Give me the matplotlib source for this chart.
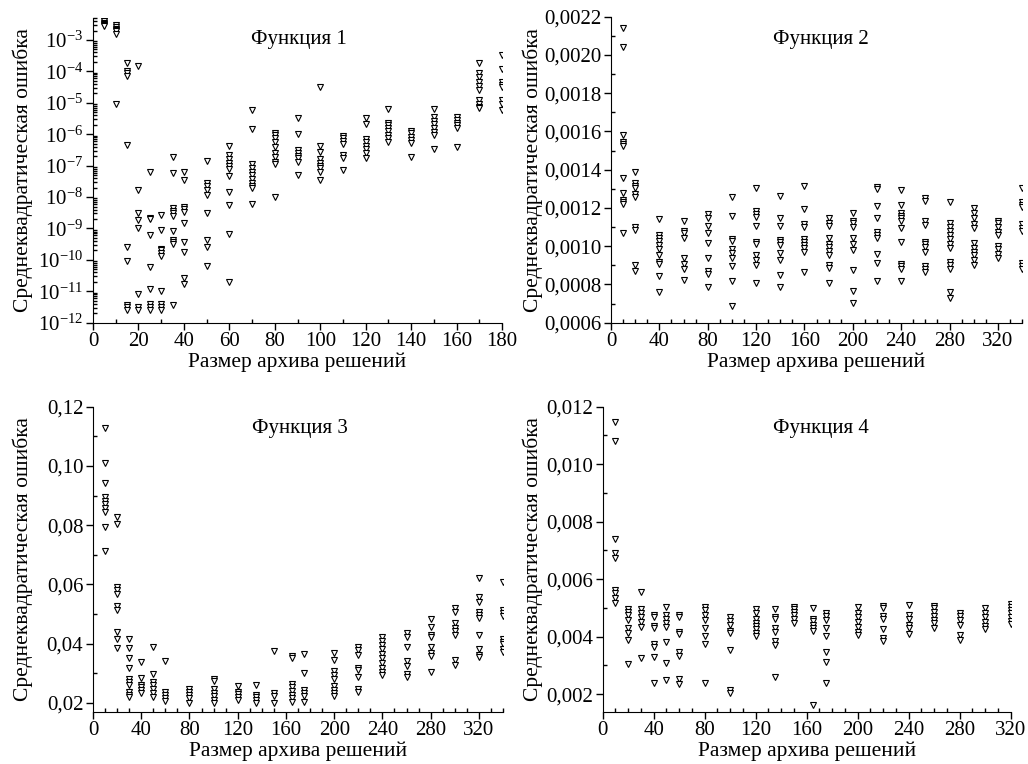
import matplotlib
matplotlib.use('Agg')
import matplotlib.pyplot as plt
from matplotlib.ticker import MultipleLocator, FuncFormatter, LogLocator

plt.rcParams['font.family'] = ['Liberation Serif', 'DejaVu Serif']
plt.rcParams['mathtext.fontset'] = 'custom'
plt.rcParams['mathtext.rm'] = 'Liberation Serif'

# ---- data ----
f1_sizes = [5, 10, 15, 20, 25, 30, 35, 40, 50, 60, 70, 80, 90, 100, 110, 120,
            130, 140, 150, 160, 170, 180]
f1_errors = [
    [4.3e-3, 4.0e-3, 3.6e-3, 3.3e-3, 3.0e-3, 2.8e-3],
    [3.0e-3, 2.6e-3, 2.3e-3, 2.1e-3, 1.9e-3, 1.6e-3, 9.5e-6],
    [1.9e-4, 1.0e-4, 8.7e-5, 7.0e-5, 4.6e-7, 2.6e-10, 9.1e-11, 3.6e-12, 3.1e-12, 2.6e-12],
    [1.5e-4, 1.7e-8, 3.0e-9, 1.9e-9, 1.0e-9, 8.1e-12, 3.1e-12, 2.6e-12],
    [6.5e-8, 2.2e-9, 2.0e-9, 6.0e-10, 6.0e-11, 1.2e-11, 3.9e-12, 3.2e-12, 2.6e-12],
    [2.6e-9, 8.9e-10, 2.3e-10, 2.0e-10, 1.6e-10, 1.3e-10, 1.0e-11, 3.9e-12, 3.2e-12, 2.6e-12],
    [1.9e-7, 5.9e-8, 4.4e-9, 3.7e-9, 3.0e-9, 2.5e-9, 8.5e-10, 4.3e-10, 3.6e-10, 3.1e-10, 3.8e-12],
    [6.5e-8, 3.5e-8, 4.9e-9, 4.1e-9, 3.4e-9, 1.5e-9, 3.7e-10, 1.8e-10, 2.7e-11, 1.7e-11],
    [1.4e-7, 2.9e-8, 2.3e-8, 1.7e-8, 1.2e-8, 3.0e-9, 4.3e-10, 2.6e-10, 6.3e-11],
    [4.3e-7, 2.2e-7, 1.6e-7, 1.2e-7, 9.5e-8, 7.7e-8, 4.8e-8, 1.4e-8, 5.6e-9, 6.9e-10, 2.0e-11],
    [5.9e-6, 1.5e-6, 1.1e-7, 8.2e-8, 6.5e-8, 5.0e-8, 3.8e-8, 2.9e-8, 2.3e-8, 1.9e-8, 6.0e-9],
    [1.1e-6, 9.5e-7, 7.4e-7, 5.8e-7, 4.0e-7, 2.5e-7, 1.9e-7, 1.3e-7, 1.1e-7, 1.0e-8],
    [3.2e-6, 1.0e-6, 3.2e-7, 2.6e-7, 2.1e-7, 1.7e-7, 1.3e-7, 5.2e-8],
    [3.3e-5, 4.3e-7, 2.8e-7, 1.6e-7, 1.2e-7, 1.0e-7, 8.2e-8, 6.5e-8, 3.5e-8],
    [8.7e-7, 7.4e-7, 6.0e-7, 4.8e-7, 2.2e-7, 1.7e-7, 7.3e-8],
    [3.2e-6, 2.1e-6, 6.9e-7, 5.8e-7, 4.3e-7, 3.3e-7, 2.5e-7, 1.7e-7],
    [6.2e-6, 2.3e-6, 2.0e-6, 1.6e-6, 1.3e-6, 9.5e-7, 7.4e-7, 5.8e-7],
    [1.3e-6, 1.1e-6, 8.4e-7, 6.6e-7, 5.1e-7, 1.9e-7],
    [6.2e-6, 3.6e-6, 2.7e-6, 2.1e-6, 1.6e-6, 1.2e-6, 9.5e-7, 3.3e-7],
    [3.5e-6, 2.8e-6, 2.3e-6, 2.0e-6, 1.6e-6, 4.0e-7],
    [1.8e-4, 8.7e-5, 6.8e-5, 4.7e-5, 3.4e-5, 2.6e-5, 1.2e-5, 9.5e-6, 7.5e-6, 6.6e-6],
    [3.3e-4, 1.2e-4, 4.7e-5, 3.7e-5, 3.1e-5, 1.2e-5, 9.5e-6, 5.9e-6],
]

f2_sizes = [10, 20, 40, 60, 80, 100, 120, 140, 160, 180, 200, 220, 240, 260,
            280, 300, 320, 340]
f2_errors = [
    [0.00214, 0.00204, 0.001582, 0.001547, 0.001535, 0.001526, 0.001355, 0.00128,
     0.001242, 0.00123, 0.00122, 0.001068],
    [0.00139, 0.00133, 0.001315, 0.001303, 0.001273, 0.001259, 0.001099, 0.001085,
     0.0009, 0.00087],
    [0.001142, 0.001058, 0.001045, 0.001028, 0.001005, 0.000983, 0.000953, 0.000918,
     0.000906, 0.000843, 0.000763],
    [0.001133, 0.00108, 0.00107, 0.001045, 0.000936, 0.000909, 0.000881, 0.000824],
    [0.001167, 0.00115, 0.001105, 0.00107, 0.001017, 0.00094, 0.00087, 0.000857, 0.000785],
    [0.001259, 0.001159, 0.00104, 0.001028, 0.000988, 0.000962, 0.00094, 0.000897,
     0.000817, 0.000687],
    [0.001306, 0.001186, 0.00117, 0.001155, 0.001105, 0.001023, 0.00101, 0.000953,
     0.000927, 0.0009, 0.000806],
    [0.00126, 0.001146, 0.001108, 0.001033, 0.00102, 0.001007, 0.000967, 0.000928,
     0.00085, 0.000789],
    [0.001315, 0.001193, 0.001116, 0.001102, 0.001037, 0.001023, 0.001007, 0.00099,
     0.000972, 0.000867],
    [0.00115, 0.001123, 0.001105, 0.001045, 0.001014, 0.000997, 0.000976, 0.000953,
     0.0009, 0.000888, 0.000808],
    [0.001172, 0.001133, 0.00112, 0.001102, 0.001045, 0.001014, 0.00098, 0.000876,
     0.000768, 0.000702],
    [0.001311, 0.001299, 0.00121, 0.00115, 0.001076, 0.001058, 0.001045, 0.000958,
     0.000911, 0.00082],
    [0.001294, 0.001216, 0.001176, 0.00116, 0.001146, 0.001134, 0.001094, 0.001021,
     0.000908, 0.000895, 0.000881, 0.00082],
    [0.001251, 0.001238, 0.001134, 0.001111, 0.001024, 0.00101, 0.000997, 0.000972,
     0.000895, 0.000881, 0.000867],
    [0.001233, 0.001123, 0.001102, 0.00108, 0.001058, 0.001037, 0.001014, 0.000993,
     0.000918, 0.0009, 0.000883, 0.000763, 0.000731],
    [0.0012, 0.001172, 0.001146, 0.001116, 0.001094, 0.001019, 0.00099, 0.000972,
     0.000954, 0.000928, 0.0009],
    [0.001134, 0.00112, 0.0011, 0.001076, 0.001058, 0.001, 0.000983, 0.000958, 0.000936],
    [0.001303, 0.001233, 0.001216, 0.001204, 0.001116, 0.001094, 0.00108, 0.000911,
     0.000897, 0.000883],
]

f3_sizes = [10, 20, 30, 40, 50, 60, 80, 100, 120, 135, 150, 165, 175, 200, 220,
            240, 260, 280, 300, 320, 340]
f3_errors = [
    [0.1127, 0.1009, 0.0941, 0.0894, 0.0882, 0.0871, 0.0857, 0.0845, 0.0795, 0.0714],
    [0.0826, 0.0804, 0.059, 0.0581, 0.0569, 0.0527, 0.0513, 0.0438, 0.0417, 0.0384],
    [0.0417, 0.0386, 0.035, 0.0316, 0.028, 0.0271, 0.026, 0.0237, 0.0226, 0.0218],
    [0.0339, 0.0284, 0.026, 0.0252, 0.0243, 0.0232],
    [0.0389, 0.0297, 0.0271, 0.026, 0.0245, 0.0232, 0.022],
    [0.0342, 0.0237, 0.0226, 0.0215, 0.0207],
    [0.0245, 0.0237, 0.0226, 0.0215, 0.02],
    [0.028, 0.0273, 0.0248, 0.0232, 0.0223, 0.0209, 0.0198],
    [0.0256, 0.0237, 0.0229, 0.022, 0.0211],
    [0.026, 0.0226, 0.0218, 0.0209, 0.02],
    [0.0376, 0.0232, 0.0223, 0.02],
    [0.0358, 0.035, 0.0265, 0.0254, 0.0241, 0.0226, 0.0215, 0.0203],
    [0.0364, 0.0299, 0.0243, 0.0232, 0.0223, 0.0203],
    [0.0369, 0.0344, 0.0308, 0.0293, 0.0279, 0.0256, 0.0243, 0.0234, 0.0223],
    [0.0387, 0.0378, 0.0361, 0.0319, 0.031, 0.0288, 0.0248, 0.0237],
    [0.0421, 0.041, 0.0395, 0.038, 0.0364, 0.035, 0.0333, 0.0319, 0.0305, 0.0293],
    [0.0434, 0.0421, 0.0387, 0.0342, 0.0324, 0.0297, 0.0288],
    [0.0482, 0.0457, 0.0429, 0.0421, 0.0387, 0.0367, 0.0358, 0.0305],
    [0.0519, 0.0508, 0.0471, 0.0451, 0.0443, 0.0429, 0.0346, 0.0327],
    [0.062, 0.0556, 0.0541, 0.0508, 0.0497, 0.0485, 0.0429, 0.038, 0.0361, 0.0353],
    [0.0609, 0.0513, 0.0502, 0.0493, 0.0414, 0.0406, 0.0398, 0.038, 0.0372],
]

f4_sizes = [10, 20, 30, 40, 50, 60, 80, 100, 120, 135, 150, 165, 175, 200, 220,
            240, 260, 280, 300, 320]
f4_errors = [
    [0.01148, 0.01082, 0.00738, 0.0069, 0.00672, 0.00562, 0.00553, 0.00536, 0.00518],
    [0.00495, 0.00487, 0.00475, 0.00458, 0.00429, 0.00413, 0.00388, 0.00304],
    [0.00556, 0.00495, 0.00483, 0.00467, 0.00452, 0.00434, 0.00324],
    [0.00475, 0.00467, 0.00437, 0.00429, 0.00376, 0.00365, 0.00328, 0.0024],
    [0.00504, 0.00475, 0.00463, 0.00446, 0.00432, 0.00382, 0.00307, 0.00249],
    [0.00475, 0.00467, 0.00417, 0.00409, 0.00347, 0.00332, 0.00251, 0.00235],
    [0.00502, 0.00492, 0.00475, 0.00458, 0.00429, 0.00402, 0.00374, 0.00237],
    [0.00467, 0.00455, 0.0044, 0.0042, 0.00411, 0.00353, 0.00214, 0.00205],
    [0.00495, 0.00481, 0.00463, 0.00448, 0.00437, 0.00425, 0.00413, 0.00402],
    [0.00495, 0.00469, 0.0046, 0.00429, 0.00417, 0.00386, 0.00371, 0.0026],
    [0.00504, 0.00495, 0.00487, 0.00475, 0.0046, 0.00446],
    [0.00498, 0.00463, 0.00455, 0.0044, 0.00429, 0.0042, 0.00162],
    [0.00481, 0.00471, 0.00458, 0.00429, 0.00402, 0.00347, 0.00313, 0.00237],
    [0.00504, 0.00483, 0.00467, 0.00452, 0.00434, 0.00417, 0.00405],
    [0.00506, 0.00498, 0.00471, 0.00463, 0.00425, 0.00394, 0.00386],
    [0.0051, 0.00475, 0.0046, 0.0044, 0.00429, 0.00409],
    [0.00506, 0.00498, 0.00487, 0.00471, 0.00458, 0.00448, 0.00429],
    [0.00481, 0.00471, 0.00458, 0.0044, 0.00405, 0.00388],
    [0.00498, 0.00483, 0.00467, 0.00452, 0.00437, 0.00425],
    [0.00515, 0.00504, 0.00492, 0.00481, 0.00467, 0.00455, 0.00444],
]

YLABEL = 'Среднеквадратическая ошибка'
XLABEL = 'Размер архива решений'
FS = 15


def comma_formatter(decimals):
    return FuncFormatter(lambda v, pos: f'{v:.{decimals}f}'.replace('.', ','))


def draw_panel(rect, sizes, errors, title, title_pos, ylabel_x):
    ax = fig.add_axes(rect)
    xs, ys = [], []
    for size, errs in zip(sizes, errors):
        xs.extend([size] * len(errs))
        ys.extend(errs)
    ax.plot(xs, ys, linestyle='none', marker='v', markersize=5,
            markerfacecolor='white', markeredgecolor='black', markeredgewidth=0.8)

    ax.spines['top'].set_visible(False)
    ax.spines['right'].set_visible(False)
    ax.tick_params(which='major', direction='out', length=5, width=1,
                   labelsize=FS, pad=2)
    ax.tick_params(which='minor', direction='in', length=3, width=1)

    ax.text(title_pos[0], title_pos[1], title, transform=ax.transAxes,
            ha='center', va='center', fontsize=FS)
    ax.set_ylabel(YLABEL, fontsize=FS + 0.5)
    ax.set_xlabel(XLABEL, fontsize=FS + 0.5)
    # label coords: right edge of the y label, top edge of the x label
    ax.yaxis.set_label_coords(ylabel_x, 0.5)
    ax.xaxis.set_label_coords(0.5, -0.097)
    return ax


fig = plt.figure(figsize=(10.28, 7.64), dpi=100)

# Function 1 (log scale)
ax1 = draw_panel([0.0905, 0.5776, 0.3979, 0.3988], f1_sizes, f1_errors,
                 'Функция 1', (0.504, 0.928), -0.147)
ax1.set_yscale('log')
ax1.set_ylim(1e-12, 5e-3)
ax1.set_xlim(0, 180)
ax1.xaxis.set_major_locator(MultipleLocator(20))
ax1.xaxis.set_minor_locator(MultipleLocator(10))
ax1.yaxis.set_major_locator(LogLocator(base=10, numticks=20))
ax1.yaxis.set_minor_locator(LogLocator(base=10, subs=range(2, 10), numticks=20))

# Function 2
ax2 = draw_panel([0.5944, 0.5776, 0.3998, 0.4005], f2_sizes, f2_errors,
                 'Функция 2', (0.511, 0.924), -0.165)
ax2.set_ylim(0.0006, 0.0022)
ax2.set_xlim(0, 340)
ax2.xaxis.set_major_locator(MultipleLocator(40))
ax2.xaxis.set_minor_locator(MultipleLocator(10))
ax2.yaxis.set_major_locator(MultipleLocator(0.0002))
ax2.yaxis.set_minor_locator(MultipleLocator(0.0001))
ax2.yaxis.set_major_formatter(comma_formatter(4))

# Function 3
ax3 = draw_panel([0.0905, 0.0685, 0.3988, 0.3992], f3_sizes, f3_errors,
                 'Функция 3', (0.505, 0.930), -0.147)
ax3.set_ylim(0.017, 0.12)
ax3.set_xlim(0, 340)
ax3.xaxis.set_major_locator(MultipleLocator(40))
ax3.xaxis.set_minor_locator(MultipleLocator(10))
ax3.yaxis.set_major_locator(MultipleLocator(0.02))
ax3.yaxis.set_minor_locator(MultipleLocator(0.01))
ax3.yaxis.set_major_formatter(comma_formatter(2))

# Function 4
ax4 = draw_panel([0.5863, 0.0685, 0.3969, 0.3992], f4_sizes, f4_errors,
                 'Функция 4', (0.535, 0.930), -0.146)
ax4.set_ylim(0.00139, 0.012)
ax4.set_xlim(0, 320)
ax4.xaxis.set_major_locator(MultipleLocator(40))
ax4.xaxis.set_minor_locator(MultipleLocator(10))
ax4.yaxis.set_major_locator(MultipleLocator(0.002))
ax4.yaxis.set_minor_locator(MultipleLocator(0.001))
ax4.yaxis.set_major_formatter(comma_formatter(3))

fig.savefig('out.png', dpi=100)
